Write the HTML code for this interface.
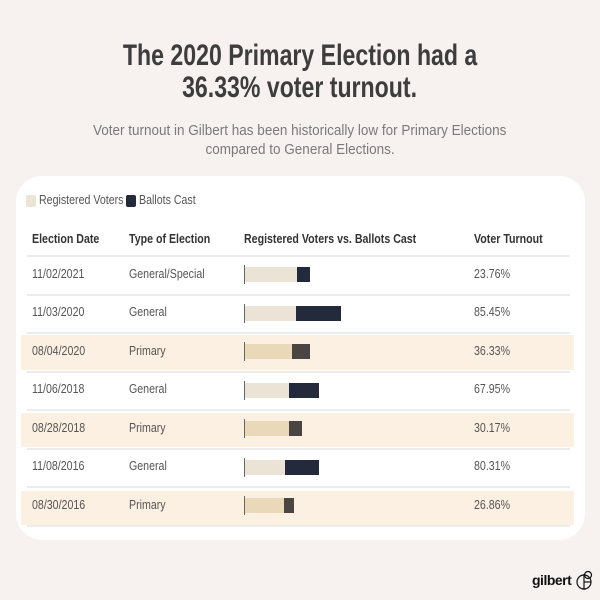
<!DOCTYPE html>
<html><head><meta charset="utf-8"><style>
*{margin:0;padding:0;box-sizing:border-box}
body{width:600px;height:600px;background:#f7f1f0;position:relative;overflow:hidden;font-family:"Liberation Sans Narrow","Liberation Sans",sans-serif}
.a{position:absolute;white-space:nowrap}
.c{display:inline-block;transform:scaleX(.85);transform-origin:left center}
.t{position:absolute;left:0;width:600px;text-align:center;color:#3d3d3d;font-weight:bold;font-size:30px;line-height:30px}
.t span{display:inline-block;transform:scaleX(.77)}
.s{position:absolute;left:0;width:600px;text-align:center;color:#7a7a7a;font-size:15px;line-height:19px}
.s span{display:inline-block;transform:scaleX(.9)}
.card{position:absolute;left:16px;top:176px;width:569px;height:364px;background:#fff;border-radius:26px}
.hl{position:absolute;left:21px;width:553px;background:#fcf0e2}
.sep{position:absolute;left:27px;width:543px;height:2px;background:#ececec}
.h{font-weight:bold;font-size:12.5px;color:#333}
.b{font-size:12.5px;color:#555}
.bar{position:absolute;height:15px}
</style></head><body>
<div class="t" style="top:41px"><span>The 2020 Primary Election had a</span></div>
<div class="t" style="top:73px"><span>36.33% voter turnout.</span></div>
<div class="s" style="top:121px"><span>Voter turnout in Gilbert has been historically low for Primary Elections</span></div>
<div class="s" style="top:140px"><span>compared to General Elections.</span></div>
<div class="card"></div>
<div class="a" style="left:26px;top:195px;width:10px;height:12px;background:#ece4d6;border-radius:2px"></div>
<div class="a" style="left:126px;top:195px;width:10px;height:12px;background:#232a3b;border-radius:2px"></div>
<div class="a b" style="left:39px;top:193px;color:#555"><span class="c">Registered Voters</span></div>
<div class="a b" style="left:139px;top:193px;color:#555"><span class="c">Ballots Cast</span></div>
<div class="a h" style="left:32px;top:232px"><span class="c">Election Date</span></div>
<div class="a h" style="left:129px;top:232px"><span class="c">Type of Election</span></div>
<div class="a h" style="left:244px;top:232px"><span class="c">Registered Voters vs. Ballots Cast</span></div>
<div class="a h" style="left:474px;top:232px"><span class="c">Voter Turnout</span></div>
<div class="sep" style="top:255px"></div>
<div class="hl" style="top:335px;height:35px"></div>
<div class="hl" style="top:413px;height:34px"></div>
<div class="hl" style="top:491px;height:34px"></div>
<div class="sep" style="top:294px"></div>
<div class="sep" style="top:332px"></div>
<div class="sep" style="top:371px"></div>
<div class="sep" style="top:409px"></div>
<div class="sep" style="top:448px"></div>
<div class="sep" style="top:486px"></div>
<div class="sep" style="top:525px"></div>

<div class="a b" style="left:32px;top:267px"><span class="c">11/02/2021</span></div>
<div class="a b" style="left:129px;top:267px"><span class="c">General/Special</span></div>
<div class="a b" style="left:474px;top:267px"><span class="c">23.76%</span></div>
<div class="a b" style="left:32px;top:305px"><span class="c">11/03/2020</span></div>
<div class="a b" style="left:129px;top:305px"><span class="c">General</span></div>
<div class="a b" style="left:474px;top:305px"><span class="c">85.45%</span></div>
<div class="a b" style="left:32px;top:344px"><span class="c">08/04/2020</span></div>
<div class="a b" style="left:129px;top:344px"><span class="c">Primary</span></div>
<div class="a b" style="left:474px;top:344px"><span class="c">36.33%</span></div>
<div class="a b" style="left:32px;top:382px"><span class="c">11/06/2018</span></div>
<div class="a b" style="left:129px;top:382px"><span class="c">General</span></div>
<div class="a b" style="left:474px;top:382px"><span class="c">67.95%</span></div>
<div class="a b" style="left:32px;top:421px"><span class="c">08/28/2018</span></div>
<div class="a b" style="left:129px;top:421px"><span class="c">Primary</span></div>
<div class="a b" style="left:474px;top:421px"><span class="c">30.17%</span></div>
<div class="a b" style="left:32px;top:459px"><span class="c">11/08/2016</span></div>
<div class="a b" style="left:129px;top:459px"><span class="c">General</span></div>
<div class="a b" style="left:474px;top:459px"><span class="c">80.31%</span></div>
<div class="a b" style="left:32px;top:498px"><span class="c">08/30/2016</span></div>
<div class="a b" style="left:129px;top:498px"><span class="c">Primary</span></div>
<div class="a b" style="left:474px;top:498px"><span class="c">26.86%</span></div>

<div class="bar" style="left:245px;top:267px;width:52px;background:#ebe3d5"></div><div class="bar" style="left:297px;top:267px;width:13px;background:#232a3b"></div>
<div class="bar" style="left:245px;top:306px;width:51px;background:#ebe3d5"></div><div class="bar" style="left:296px;top:306px;width:45px;background:#232a3b"></div>
<div class="bar" style="left:245px;top:344px;width:47px;background:#ead9b9"></div><div class="bar" style="left:292px;top:344px;width:18px;background:#4a4540"></div>
<div class="bar" style="left:245px;top:383px;width:44px;background:#ebe3d5"></div><div class="bar" style="left:289px;top:383px;width:30px;background:#232a3b"></div>
<div class="bar" style="left:245px;top:421px;width:44px;background:#ead9b9"></div><div class="bar" style="left:289px;top:421px;width:13px;background:#4a4540"></div>
<div class="bar" style="left:245px;top:460px;width:40px;background:#ebe3d5"></div><div class="bar" style="left:285px;top:460px;width:34px;background:#232a3b"></div>
<div class="bar" style="left:245px;top:498px;width:39px;background:#ead9b9"></div><div class="bar" style="left:284px;top:498px;width:10px;background:#4a4540"></div>
<div class="a" style="left:244px;top:265px;width:1px;height:19px;background:#666"></div>
<div class="a" style="left:244px;top:304px;width:1px;height:19px;background:#666"></div>
<div class="a" style="left:244px;top:342px;width:1px;height:19px;background:#666"></div>
<div class="a" style="left:244px;top:381px;width:1px;height:19px;background:#666"></div>
<div class="a" style="left:244px;top:419px;width:1px;height:19px;background:#666"></div>
<div class="a" style="left:244px;top:458px;width:1px;height:19px;background:#666"></div>
<div class="a" style="left:244px;top:496px;width:1px;height:19px;background:#666"></div>

<div class="a" style="left:532px;top:572px;font-family:'Liberation Sans',sans-serif;font-weight:bold;font-size:14px;color:#111;letter-spacing:-0.5px">gilbert</div>
<svg class="a" style="left:576px;top:570px" width="20" height="22" viewBox="0 0 20 22"><circle cx="8" cy="12" r="7" fill="none" stroke="#111" stroke-width="1.2"/><circle cx="12" cy="5" r="3.5" fill="none" stroke="#111" stroke-width="1.2"/><line x1="8" y1="4" x2="8" y2="20" stroke="#111" stroke-width="1.2"/><line x1="8" y1="12" x2="15" y2="12" stroke="#111" stroke-width="1.2"/></svg>
</body></html>
